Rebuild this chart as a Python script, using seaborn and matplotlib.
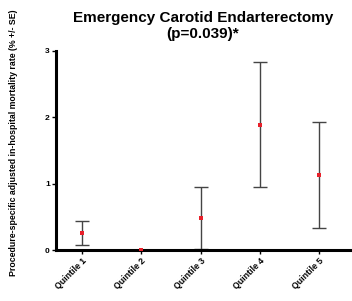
import matplotlib
matplotlib.use("Agg")
import matplotlib.pyplot as plt
import seaborn as sns
import pandas as pd
import numpy as np

categories = ["Quintile 1", "Quintile 2", "Quintile 3", "Quintile 4", "Quintile 5"]
mortality = [0.26, 0.0, 0.48, 1.885, 1.13]
se = [0.18, 0.0, 0.47, 0.94, 0.80]
yticks = [0, 1, 2, 3]

sns.set_style("ticks")
plt.rcParams['font.family'] = ['Liberation Sans', 'DejaVu Sans']
plt.rcParams['text.color'] = 'black'
plt.rcParams['xtick.color'] = 'black'
plt.rcParams['ytick.color'] = 'black'
plt.rcParams['axes.labelcolor'] = 'black'
plt.rcParams['axes.edgecolor'] = 'black'

fig = plt.figure(figsize=(3.52, 3.01), dpi=100)
ax = fig.add_axes([0.159, 0.169, 0.835, 0.662])

df = pd.DataFrame({"q": categories, "m": mortality, "se": se})
xpos = np.arange(len(categories))

ax.errorbar(xpos, df["m"], yerr=df["se"], fmt="none", ecolor="#444444",
            elinewidth=1.0, capsize=5, capthick=1.0, zorder=2)
sns.scatterplot(x=xpos, y=df["m"], ax=ax, marker="s", color="#e8202a",
                s=12, linewidth=0, zorder=3)

ax.set_xlim(-0.44, 4.52)
ax.set_ylim(0, 3)
ax.set_xticks(xpos)
ax.set_xticklabels(categories, rotation=45, ha="right", rotation_mode="anchor",
                   fontsize=6.3, fontweight="bold")
ax.set_yticks(yticks)
ax.set_yticklabels([str(t) for t in yticks], fontsize=6, fontweight="bold")
ax.tick_params(axis="both", length=3, width=1.0, pad=1.5)

for s in ["top", "right"]:
    ax.spines[s].set_visible(False)
ax.spines["left"].set_linewidth(2.2)
ax.spines["bottom"].set_linewidth(2.2)

ax.set_xlabel("")
ax.set_ylabel("Procedure-specific adjusted in-hospital mortality rate (% +/- SE)",
              fontsize=6.3, fontweight="bold")
ax.yaxis.set_label_coords(-0.13, 0.54)

ax.set_title("Emergency Carotid Endarterectomy\n(p=0.039)*", fontsize=11,
             fontweight="bold", pad=9, linespacing=1.25)

fig.savefig("out.png", dpi=100)
